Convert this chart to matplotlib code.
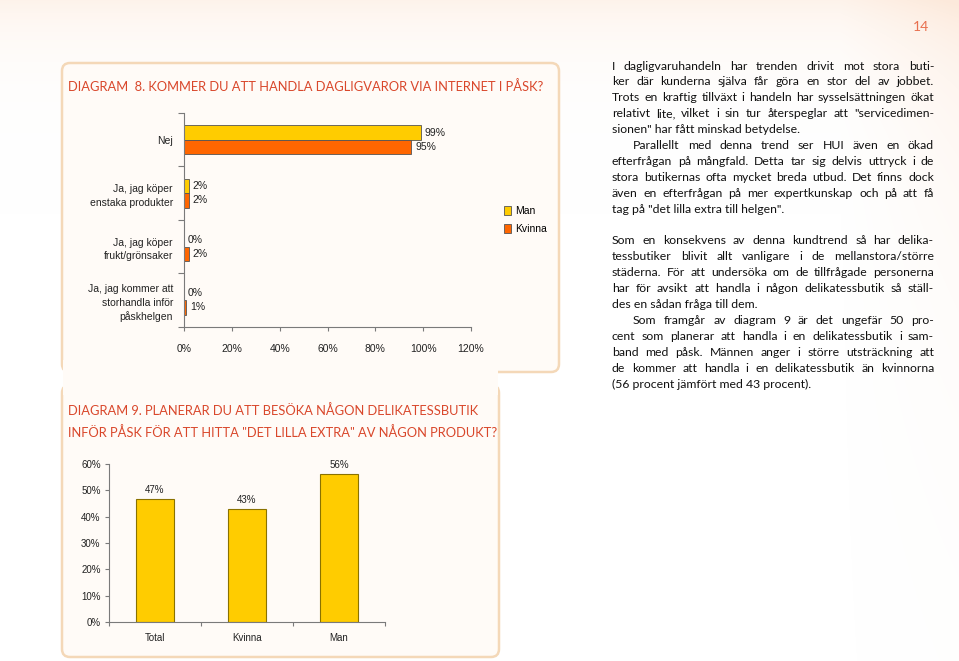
import numpy as np
import matplotlib
matplotlib.use("Agg")
import matplotlib.pyplot as plt
from matplotlib.patches import FancyBboxPatch

W, H = 959, 661

# diagram 8
cat8 = ["Nej", "Ja, jag köper\nenstaka produkter", "Ja, jag köper\nfrukt/grönsaker",
        "Ja, jag kommer att\nstorhandla inför\npåskhelgen"]
man8 = [0.99, 0.02, 0.0, 0.0]
kvinna8 = [0.95, 0.02, 0.02, 0.01]
xticks8 = [0, 0.2, 0.4, 0.6, 0.8, 1.0, 1.2]

# diagram 9
cat9 = ["Total", "Kvinna", "Man"]
val9 = [46.6, 42.8, 56.1]
yticks9 = [0, 10, 20, 30, 40, 50, 60]

title8 = "DIAGRAM  8. KOMMER DU ATT HANDLA DAGLIGVAROR VIA INTERNET I PÅSK?"
title9 = ["DIAGRAM 9. PLANERAR DU ATT BESÖKA NÅGON DELIKATESSBUTIK",
          "INFÖR PÅSK FÖR ATT HITTA \"DET LILLA EXTRA\" AV NÅGON PRODUKT?"]

block1 = [
    ["I dagligvaruhandeln har trenden drivit mot stora buti-",
     "ker där kunderna själva får göra en stor del av jobbet.",
     "Trots en kraftig tillväxt i handeln har sysselsättningen ökat",
     "relativt lite, vilket i sin tur återspeglar att \"servicedimen-",
     "sionen\" har fått minskad betydelse."],
    ["Parallellt med denna trend ser HUI även en ökad",
     "efterfrågan på mångfald. Detta tar sig delvis uttryck i de",
     "stora butikernas ofta mycket breda utbud. Det finns dock",
     "även en efterfrågan på mer expertkunskap och på att få",
     "tag på \"det lilla extra till helgen\"."],
]
block2 = [
    ["Som en konsekvens av denna kundtrend så har delika-",
     "tessbutiker blivit allt vanligare i de mellanstora/större",
     "städerna. För att undersöka om de tillfrågade personerna",
     "har för avsikt att handla i någon delikatessbutik så ställ-",
     "des en sådan fråga till dem."],
    ["Som framgår av diagram 9 är det ungefär 50 pro-",
     "cent som planerar att handla i en delikatessbutik i sam-",
     "band med påsk. Männen anger i större utsträckning att",
     "de kommer att handla i en delikatessbutik än kvinnorna",
     "(56 procent jämfört med 43 procent)."],
]

YELLOW = "#FFCC00"
ORANGE = "#FF6600"
RED = "#D9472B"
AXCOL = "#7a7a7a"


def px(x0, y0, x1, y1):
    return [x0 / W, 1 - y1 / H, (x1 - x0) / W, (y1 - y0) / H]


fig = plt.figure(figsize=(W / 100, H / 100), dpi=100)

# page background with light peach tint
bg = fig.add_axes([0, 0, 1, 1], zorder=-5)
bg.set_xlim(0, W)
bg.set_ylim(H, 0)
bg.axis("off")
yy, xx = np.mgrid[0:H, 0:W]
alpha = np.clip(0.45 * np.exp(-yy / 45.0) + 0.4 * np.clip((xx - 840) / 120.0, 0, 1) * np.exp(-yy / 250.0), 0, 0.8)
img = np.zeros((H, W, 4))
img[..., 0] = 252 / 255
img[..., 1] = 228 / 255
img[..., 2] = 210 / 255
img[..., 3] = alpha
bg.imshow(img, extent=[0, W, H, 0], aspect="auto", zorder=0)

# panels
for (x0, y0, x1, y1) in [(62, 63, 559, 372), (62, 385, 499, 657)]:
    bg.add_patch(FancyBboxPatch((x0 + 8, y0 + 8), x1 - x0 - 16, y1 - y0 - 16,
                                boxstyle="round,pad=8", fc="#fffbf7", ec="#f4d8b8", lw=1.8, zorder=1))
bg.add_patch(plt.Rectangle((63, 360), 435, 35, fc="#fffbf7", ec="none", zorder=2))

bg.text(921, 27, "14", color="#E8704F", fontsize=10, ha="center", va="center", family="Lato")

bg.text(68, 87, title8, color=RED, fontsize=9.3, family="Lato", va="center", zorder=3)
bg.text(68, 411, title9[0], color=RED, fontsize=9.3, family="Lato", va="center", zorder=3)
bg.text(68, 433, title9[1], color=RED, fontsize=9.3, family="Lato", va="center", zorder=3)

# justified body text
fig.canvas.draw()
renderer = fig.canvas.get_renderer()
TX0, TX1 = 612, 934
LINE = 15.9
FS = 8.8


def word_width(w):
    t = bg.text(0, 0, w, fontsize=FS, family="Lato")
    bb = t.get_window_extent(renderer)
    t.remove()
    return bb.width


def put_block(paras, y):
    for pi, para in enumerate(paras):
        for li, line in enumerate(para):
            indent = 21 if (pi > 0 and li == 0) else 0
            x0 = TX0 + indent
            if li == len(para) - 1:
                bg.text(x0, y, line, fontsize=FS, family="Lato", color="#111111", va="center", zorder=3)
            else:
                words = line.split(" ")
                widths = [word_width(w) for w in words]
                gap = (TX1 - x0 - sum(widths)) / (len(words) - 1)
                x = x0
                for w, wd in zip(words, widths):
                    bg.text(x, y, w, fontsize=FS, family="Lato", color="#111111", va="center", zorder=3)
                    x += wd + gap
            y += LINE


put_block(block1, 66)
put_block(block2, 241)

# diagram 8
ax8 = fig.add_axes(px(184, 113, 471, 327))
ax8.set_facecolor("none")
pos = np.arange(len(cat8))
h = 0.27
ax8.barh(pos - h / 2, man8, height=h, color=YELLOW, edgecolor="#555555", lw=0.6, label="Man")
ax8.barh(pos + h / 2, kvinna8, height=h, color=ORANGE, edgecolor="#555555", lw=0.6, label="Kvinna")
for i in range(len(cat8)):
    ax8.text(man8[i] + 0.017, pos[i] - h / 2, f"{man8[i] * 100:.0f}%", va="center", ha="left",
             fontsize=7.5, family="Liberation Sans", color="#222222")
    ax8.text(kvinna8[i] + 0.017, pos[i] + h / 2, f"{kvinna8[i] * 100:.0f}%", va="center", ha="left",
             fontsize=7.5, family="Liberation Sans", color="#222222")
ax8.set_xlim(0, 1.2)
ax8.set_ylim(len(cat8) - 0.5, -0.5)
ax8.set_xticks(xticks8)
ax8.set_xticklabels([f"{v * 100:.0f}%" for v in xticks8], fontsize=7.5, family="Liberation Sans", color="#222222")
ax8.set_yticks(np.arange(len(cat8) + 1) - 0.5)
ax8.set_yticklabels([])
ax8.set_yticks(pos, minor=True)
ax8.set_yticklabels(cat8, minor=True, fontsize=7.5, family="Liberation Sans", color="#222222",
                    linespacing=1.45)
ax8.tick_params(axis="y", which="minor", length=0, pad=8)
ax8.tick_params(axis="y", which="major", length=4, color=AXCOL, width=0.8)
ax8.tick_params(axis="x", length=3, color=AXCOL, width=0.8, pad=9)
for s in ["top", "right"]:
    ax8.spines[s].set_visible(False)
for s in ["left", "bottom"]:
    ax8.spines[s].set_color(AXCOL)
    ax8.spines[s].set_linewidth(0.8)
leg = ax8.legend(loc="center left", bbox_to_anchor=((500 - 184) / 287, (327 - 220) / 214), frameon=False,
                 prop={"family": "Liberation Sans", "size": 7.5}, handlelength=0.7, handleheight=0.9,
                 handletextpad=0.4, labelspacing=0.75, borderaxespad=0)

# diagram 9
ax9 = fig.add_axes(px(109, 464, 385, 622))
ax9.set_facecolor("none")
p9 = np.arange(len(cat9))
ax9.bar(p9, val9, width=0.41, color=YELLOW, edgecolor="#8a7200", lw=0.8)
for i, v in enumerate(val9):
    ax9.text(p9[i], v + 1.8, f"{v:.0f}%", ha="center", va="bottom", fontsize=7, family="Liberation Sans",
             color="#222222")
ax9.set_xlim(-0.5, len(cat9) - 0.5)
ax9.set_ylim(0, 60)
ax9.set_yticks(yticks9)
ax9.set_yticklabels([f"{v}%" for v in yticks9], fontsize=7, family="Liberation Sans", color="#222222")
ax9.set_xticks(np.arange(len(cat9) + 1) - 0.5)
ax9.set_xticklabels([])
ax9.set_xticks(p9, minor=True)
ax9.set_xticklabels(cat9, minor=True, fontsize=7, family="Liberation Sans", color="#222222")
ax9.tick_params(axis="x", which="minor", length=0, pad=8)
ax9.tick_params(axis="x", which="major", length=3, color=AXCOL, width=0.8)
ax9.tick_params(axis="y", length=3, color=AXCOL, width=0.8, pad=3)
for s in ["top", "right"]:
    ax9.spines[s].set_visible(False)
for s in ["left", "bottom"]:
    ax9.spines[s].set_color(AXCOL)
    ax9.spines[s].set_linewidth(0.8)

fig.savefig("out.png", dpi=100)
